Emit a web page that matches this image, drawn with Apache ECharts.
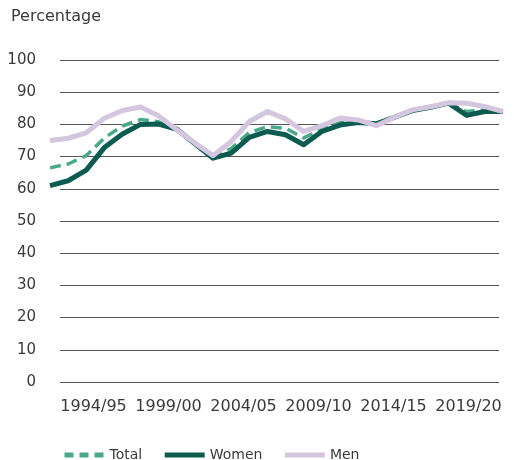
<!DOCTYPE html>
<html>
<head>
<meta charset="utf-8">
<title>Percentage</title>
<script src="https://cdn.jsdelivr.net/npm/echarts@6/dist/echarts.min.js"></script>
<style>
  html, body { margin: 0; padding: 0; background: #fff; }
  #chart { width: 514px; height: 460px; }
</style>
</head>
<body>
<div id="chart"></div>
<script>
var tickLabels = ['1994/95', '1999/00', '2004/05', '2009/10', '2014/15', '2019/20']

var total = [66.5, 67.7, 70.3, 75.8, 79.5, 81.5, 80.8, 78.3, 74.1, 69.8, 72.5, 77.5, 79.3, 78.8, 75.8, 78.5, 80.5, 81.0, 80.0, 82.2, 84.4, 85.4, 86.6, 84.0, 84.5, 84.0]
var women = [61.0, 62.5, 65.8, 72.8, 77.0, 80.0, 80.1, 78.5, 74.0, 69.5, 71.1, 76.0, 77.8, 76.8, 73.7, 77.8, 79.8, 80.6, 80.2, 82.2, 84.3, 85.3, 86.6, 82.8, 84.0, 84.0]
var men = [75.0, 75.7, 77.4, 81.9, 84.3, 85.4, 82.6, 78.3, 74.2, 70.3, 74.7, 80.9, 84.0, 81.7, 77.8, 79.6, 82.0, 81.4, 79.6, 82.2, 84.5, 85.5, 86.7, 86.6, 85.5, 84.0]

var textColor = '#3a3a3a'
var font = 'DejaVu Sans'
var totalColor = '#4aa88a'
var womenColor = '#0b5b50'
var menColor = '#d4c6de'

function points(values) {
  return values.map(function (v, i) { return [i, v] })
}

var chart = echarts.init(document.getElementById('chart'), null, { renderer: 'canvas' })

chart.setOption({
  animation: false,
  backgroundColor: '#fff',
  title: {
    text: 'Percentage',
    left: 6,
    top: 4,
    textStyle: { color: textColor, fontFamily: font, fontSize: 16, fontWeight: 'normal' }
  },
  legend: {
    left: 57,
    top: 443,
    itemWidth: 40,
    itemHeight: 6,
    itemGap: 20,
    itemStyle: { opacity: 0 },
    textStyle: { color: textColor, fontFamily: font, fontSize: 14 },
    data: [
      { name: 'Total', lineStyle: { width: 5, type: [9, 6], color: totalColor } },
      { name: 'Women', lineStyle: { width: 5, color: womenColor } },
      { name: 'Men', lineStyle: { width: 5, color: menColor } }
    ]
  },
  grid: [
    // lines
    { left: 50, right: 11, top: 60, bottom: 78 },
    // gridlines and y labels
    { left: 60, right: 15, top: 60, bottom: 78 },
    // x labels
    { left: 56, right: 8, top: 60, bottom: 78 }
  ],
  xAxis: [
    { type: 'value', gridIndex: 0, min: 0, max: total.length - 1, show: false },
    { type: 'value', gridIndex: 1, min: 0, max: 1, show: false },
    {
      type: 'category',
      gridIndex: 2,
      data: tickLabels,
      boundaryGap: true,
      axisLine: { show: false },
      axisTick: { show: false },
      axisLabel: { color: textColor, fontFamily: font, fontSize: 16, margin: 17, interval: 0 }
    }
  ],
  yAxis: [
    { type: 'value', gridIndex: 0, min: 0, max: 100, show: false },
    {
      type: 'value',
      gridIndex: 1,
      min: 0,
      max: 100,
      interval: 10,
      axisLine: { show: false },
      axisTick: { show: false },
      axisLabel: { color: textColor, fontFamily: font, fontSize: 15, margin: 24 },
      splitLine: { lineStyle: { color: '#555', width: 1 } }
    },
    { type: 'value', gridIndex: 2, min: 0, max: 100, show: false }
  ],
  series: [
    {
      name: 'Total',
      type: 'line',
      xAxisIndex: 0,
      yAxisIndex: 0,
      data: points(total),
      symbol: 'none',
      color: totalColor,
      lineStyle: { width: 3.5, type: [11, 6], join: 'round' }
    },
    {
      name: 'Women',
      type: 'line',
      xAxisIndex: 0,
      yAxisIndex: 0,
      data: points(women),
      symbol: 'none',
      color: womenColor,
      lineStyle: { width: 5, join: 'round' }
    },
    {
      name: 'Men',
      type: 'line',
      xAxisIndex: 0,
      yAxisIndex: 0,
      data: points(men),
      symbol: 'none',
      color: menColor,
      lineStyle: { width: 5, join: 'round' }
    }
  ]
})
</script>
</body>
</html>
